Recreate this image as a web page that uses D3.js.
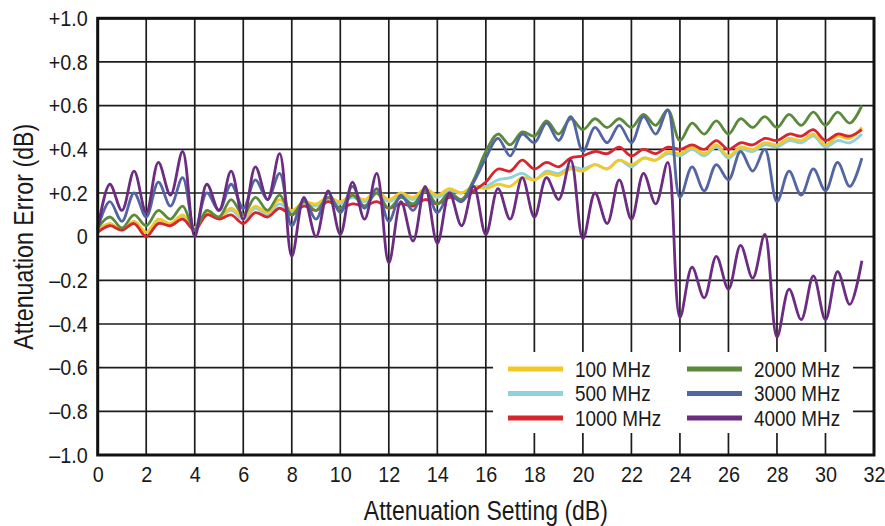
<!DOCTYPE html>
<html>
<head>
<meta charset="utf-8">
<script src="https://cdn.jsdelivr.net/npm/d3@7"></script>
<style>
  body { margin: 0; background: #fff; }
  svg { display: block; }
  text { font-family: "Liberation Sans Narrow", "Arial Narrow", "Liberation Sans", Arial, sans-serif; fill: #1a1a1a; }
</style>
</head>
<body>
<div id="chart"></div>
<script>
(function () {
  "use strict";

  // attenuation setting (dB), 0.5 dB steps
  const setting = [0, 0.5, 1, 1.5, 2, 2.5, 3, 3.5, 4, 4.5, 5, 5.5, 6, 6.5, 7, 7.5,
    8, 8.5, 9, 9.5, 10, 10.5, 11, 11.5, 12, 12.5, 13, 13.5, 14, 14.5, 15, 15.5,
    16, 16.5, 17, 17.5, 18, 18.5, 19, 19.5, 20, 20.5, 21, 21.5, 22, 22.5, 23, 23.5,
    24, 24.5, 25, 25.5, 26, 26.5, 27, 27.5, 28, 28.5, 29, 29.5, 30, 30.5, 31, 31.5];

  // attenuation error (dB)
  const mhz100 = [0.03, 0.06, 0.03, 0.07, 0.02, 0.08, 0.06, 0.10, 0.04, 0.11, 0.09, 0.13, 0.09, 0.14, 0.11, 0.17,
    0.12, 0.16, 0.15, 0.18, 0.16, 0.19, 0.17, 0.21, 0.17, 0.20, 0.18, 0.22, 0.19, 0.22, 0.20, 0.23,
    0.22, 0.24, 0.23, 0.27, 0.26, 0.29, 0.28, 0.31, 0.30, 0.33, 0.31, 0.35, 0.33, 0.36, 0.35, 0.39,
    0.38, 0.41, 0.38, 0.42, 0.37, 0.41, 0.40, 0.43, 0.42, 0.45, 0.44, 0.47, 0.42, 0.46, 0.45, 0.50];
  const mhz500 = [0.03, 0.06, 0.03, 0.07, 0.02, 0.07, 0.05, 0.09, 0.04, 0.10, 0.09, 0.12, 0.08, 0.13, 0.10, 0.15,
    0.11, 0.15, 0.14, 0.17, 0.15, 0.18, 0.16, 0.20, 0.16, 0.19, 0.17, 0.21, 0.18, 0.21, 0.20, 0.23,
    0.23, 0.26, 0.27, 0.29, 0.26, 0.30, 0.29, 0.32, 0.31, 0.33, 0.31, 0.35, 0.32, 0.36, 0.35, 0.38,
    0.37, 0.40, 0.37, 0.41, 0.36, 0.40, 0.39, 0.42, 0.41, 0.44, 0.43, 0.46, 0.41, 0.44, 0.43, 0.47];
  const mhz1000 = [0.02, 0.05, 0.03, 0.06, 0.00, 0.06, 0.05, 0.08, 0.03, 0.10, 0.08, 0.10, 0.06, 0.11, 0.09, 0.13,
    0.10, 0.14, 0.12, 0.16, 0.13, 0.15, 0.14, 0.16, 0.13, 0.15, 0.14, 0.17, 0.15, 0.18, 0.17, 0.21,
    0.25, 0.31, 0.30, 0.35, 0.31, 0.34, 0.32, 0.36, 0.37, 0.39, 0.38, 0.41, 0.37, 0.40, 0.38, 0.41,
    0.40, 0.42, 0.40, 0.44, 0.40, 0.43, 0.42, 0.45, 0.44, 0.47, 0.46, 0.49, 0.44, 0.47, 0.46, 0.49];
  const mhz2000 = [0.04, 0.09, 0.04, 0.10, 0.05, 0.12, 0.08, 0.14, 0.03, 0.12, 0.09, 0.17, 0.10, 0.18, 0.12, 0.19,
    0.10, 0.16, 0.12, 0.18, 0.13, 0.19, 0.14, 0.20, 0.13, 0.18, 0.15, 0.21, 0.15, 0.20, 0.17, 0.26,
    0.39, 0.47, 0.42, 0.48, 0.46, 0.53, 0.47, 0.54, 0.49, 0.54, 0.50, 0.54, 0.50, 0.56, 0.51, 0.58,
    0.44, 0.52, 0.47, 0.53, 0.47, 0.54, 0.50, 0.55, 0.50, 0.56, 0.51, 0.57, 0.51, 0.57, 0.52, 0.60];
  const mhz3000 = [0.04, 0.16, 0.07, 0.20, 0.09, 0.25, 0.14, 0.27, 0.03, 0.20, 0.12, 0.24, 0.13, 0.26, 0.17, 0.29,
    0.05, 0.17, 0.08, 0.20, 0.11, 0.23, 0.13, 0.22, 0.07, 0.19, 0.12, 0.22, 0.11, 0.19, 0.16, 0.25,
    0.36, 0.45, 0.37, 0.47, 0.43, 0.52, 0.44, 0.55, 0.39, 0.50, 0.43, 0.51, 0.43, 0.55, 0.47, 0.58,
    0.18, 0.32, 0.21, 0.33, 0.26, 0.39, 0.30, 0.40, 0.16, 0.30, 0.19, 0.31, 0.21, 0.34, 0.23, 0.36];
  const mhz4000 = [0.03, 0.24, 0.12, 0.30, 0.11, 0.34, 0.19, 0.39, 0.00, 0.24, 0.12, 0.30, 0.08, 0.32, 0.17, 0.38,
    -0.09, 0.18, 0.00, 0.21, 0.01, 0.25, 0.08, 0.29, -0.12, 0.16, -0.02, 0.23, -0.03, 0.20, 0.05, 0.23,
    0.01, 0.22, 0.08, 0.27, 0.09, 0.27, 0.17, 0.35, -0.01, 0.20, 0.06, 0.26, 0.08, 0.29, 0.15, 0.34,
    -0.37, -0.14, -0.28, -0.09, -0.24, -0.04, -0.19, 0.01, -0.46, -0.24, -0.38, -0.18, -0.38, -0.16, -0.31, -0.11];

  const seriesNames = ["100 MHz", "500 MHz", "1000 MHz", "2000 MHz", "3000 MHz", "4000 MHz"];
  const seriesValues = [mhz100, mhz500, mhz1000, mhz2000, mhz3000, mhz4000];
  const seriesColors = ["#f2c928", "#8fd2dc", "#d8262f", "#5b8a3c", "#5365a3", "#6b2c82"];
  // order the curves are stacked in (last on top)
  const drawOrder = [1, 0, 2, 3, 4, 5];

  const xTicks = [0, 2, 4, 6, 8, 10, 12, 14, 16, 18, 20, 22, 24, 26, 28, 30, 32];
  const yTicks = [-1, -0.8, -0.6, -0.4, -0.2, 0, 0.2, 0.4, 0.6, 0.8, 1];
  const yLabels = ["\u20131.0", "\u20130.8", "\u20130.6", "\u20130.4", "\u20130.2", "0",
    "+0.2", "+0.4", "+0.6", "+0.8", "+1.0"];

  const width = 885;
  const height = 526;

  const svg = d3
    .select("#chart")
    .append("svg")
    .attr("width", width)
    .attr("height", height);

  const x = d3.scaleLinear().domain([0, 32]).range([97.7, 874]);
  const y = d3.scaleLinear().domain([-1, 1]).range([455, 18.3]);

  // grid
  const grid = svg.append("g").attr("stroke", "#1c1c1c").attr("stroke-width", 1.7);
  grid
    .selectAll("line.v")
    .data(xTicks)
    .join("line")
    .attr("class", "v")
    .attr("x1", (d) => x(d))
    .attr("x2", (d) => x(d))
    .attr("y1", y(1))
    .attr("y2", y(-1));
  grid
    .selectAll("line.h")
    .data(yTicks)
    .join("line")
    .attr("class", "h")
    .attr("x1", x(0))
    .attr("x2", x(32))
    .attr("y1", (d) => y(d))
    .attr("y2", (d) => y(d));

  // curves
  const line = d3
    .line()
    .x((d) => x(d[0]))
    .y((d) => y(d[1]))
    .curve(d3.curveCatmullRom.alpha(0.5));

  svg
    .append("g")
    .selectAll("path")
    .data(drawOrder)
    .join("path")
    .attr("d", (i) => line(setting.map((s, k) => [s, seriesValues[i][k]])))
    .attr("fill", "none")
    .attr("stroke", (i) => seriesColors[i])
    .attr("stroke-width", 2.8)
    .attr("stroke-linejoin", "round");

  // frame
  svg
    .append("rect")
    .attr("x", x(0))
    .attr("y", y(1))
    .attr("width", x(32) - x(0))
    .attr("height", y(-1) - y(1))
    .attr("fill", "none")
    .attr("stroke", "#111")
    .attr("stroke-width", 3);

  // axes (condensed look: squeeze the glyphs horizontally)
  const xAxis = svg
    .append("g")
    .attr("transform", `translate(0,${y(-1)})`)
    .call(d3.axisBottom(x).tickValues(xTicks).tickFormat(d3.format("d")).tickSize(0).tickPadding(11));
  const yAxis = svg
    .append("g")
    .attr("transform", `translate(${x(0)},0)`)
    .call(d3.axisLeft(y).tickValues(yTicks).tickFormat((d, i) => yLabels[i]).tickSize(0).tickPadding(11));
  [xAxis, yAxis].forEach((a) => {
    a.select(".domain").remove();
    a.selectAll("text")
      .attr("font-size", 22)
      .attr("font-family", null)
      .attr("transform", "scale(0.9,1)")
      .style("fill", "#1a1a1a");
  });

  // axis titles
  svg
    .append("text")
    .attr("x", (x(0) + x(32)) / 2)
    .attr("y", 520)
    .attr("text-anchor", "middle")
    .attr("font-size", 27)
    .attr("textLength", 244)
    .attr("lengthAdjust", "spacingAndGlyphs")
    .text("Attenuation Setting (dB)");

  svg
    .append("text")
    .attr("transform", `translate(33,${(y(1) + y(-1)) / 2}) rotate(-90)`)
    .attr("text-anchor", "middle")
    .attr("font-size", 27)
    .attr("textLength", 226)
    .attr("lengthAdjust", "spacingAndGlyphs")
    .text("Attenuation Error (dB)");

  // legend
  const legend = svg.append("g");
  legend
    .append("rect")
    .attr("x", 493)
    .attr("y", 352)
    .attr("width", 360)
    .attr("height", 81)
    .attr("fill", "#fff");

  const item = legend
    .selectAll("g")
    .data(seriesNames)
    .join("g")
    .attr("transform", (d, i) => `translate(${i < 3 ? 508 : 687},${369 + (i % 3) * 24.5})`);
  item
    .append("line")
    .attr("x1", 0)
    .attr("x2", 55)
    .attr("stroke", (d, i) => seriesColors[i])
    .attr("stroke-width", 5);
  item
    .append("text")
    .attr("transform", "translate(67,0) scale(0.86,1)")
    .attr("dy", "0.36em")
    .attr("font-size", 22)
    .text((d) => d);
})();
</script>
</body>
</html>
